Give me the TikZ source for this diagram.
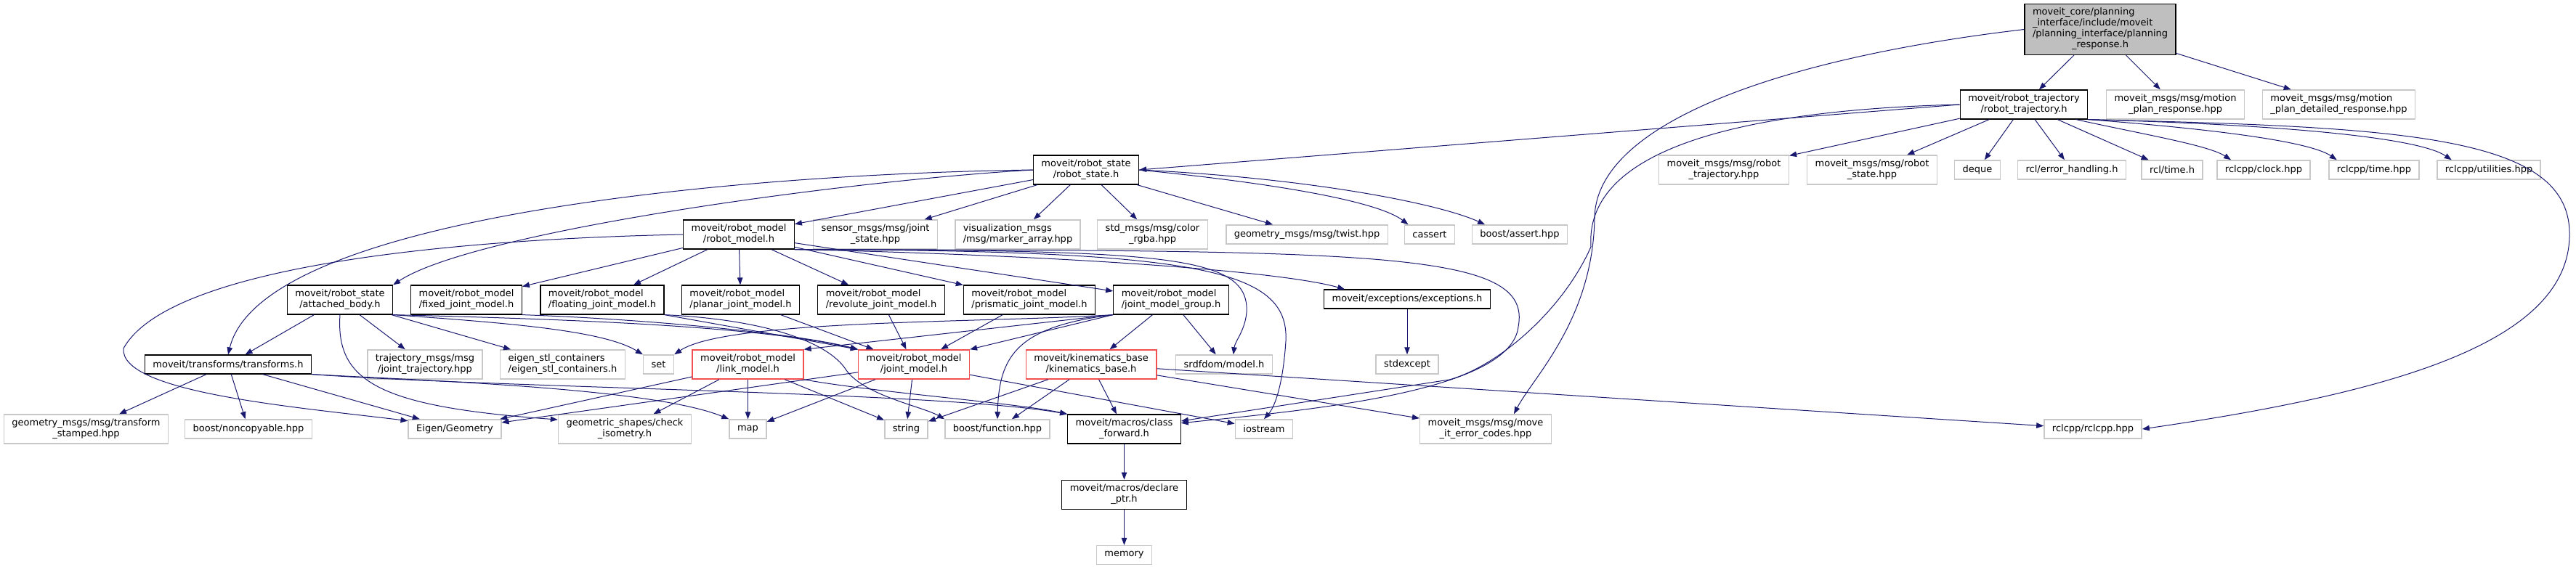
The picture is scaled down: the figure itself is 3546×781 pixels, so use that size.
\documentclass[tikz,border=0pt]{standalone}
\usepackage{fontspec}
\setmainfont{DejaVu Sans}
\usetikzlibrary{arrows.meta, positioning}
\definecolor{edgeblue}{RGB}{25, 25, 112}
\definecolor{extgray}{RGB}{200, 200, 200}
\definecolor{truncred}{RGB}{242, 80, 80}
\definecolor{rootgray}{RGB}{191, 191, 191}
\newcommand{\hdr}[2]{\begin{tabular}{@{}l@{}}#1\\\multicolumn{1}{@{}c@{}}{#2}\end{tabular}}
\tikzset{
    incfile/.style={rectangle, fill=white, line width=1.2pt, inner xsep=11pt, inner ysep=5pt, minimum height=26pt, font=\fontsize{13}{15}\selectfont},
    header/.style={incfile, draw=black},
    extern/.style={incfile, draw=extgray, line width=1.5pt},
    trunc/.style={incfile, draw=truncred, line width=1.5pt},
    rootfile/.style={incfile, draw=black, fill=rootgray},
    dep/.style={-{Triangle[length=10pt, width=7.5pt]}, edgeblue, line width=1pt}
}
\begin{document}
\begin{tikzpicture}[x=1pt, y=-1pt]
            \useasboundingbox (0,0) rectangle (3546,781);
            \node (root) [rootfile] at (2891,40.5) {\begin{tabular}{@{}l@{}}moveit\_core/planning\\\_interface/include/moveit\\/planning\_interface/planning\\\multicolumn{1}{@{}c@{}}{\_response.h}\end{tabular}};

            \node (rtraj) [header] at (2786,144) {\hdr{moveit/robot\_trajectory}{/robot\_trajectory.h}};
            \node (mpr) [extern] at (2994.5,144) {\hdr{moveit\_msgs/msg/motion}{\_plan\_response.hpp}};
            \node (mpdr) [extern] at (3219.5,144) {\hdr{moveit\_msgs/msg/motion}{\_plan\_detailed\_response.hpp}};

            \node (rstate) [header] at (1495,234) {\hdr{moveit/robot\_state}{/robot\_state.h}};
            \node (mmrt) [extern] at (2373,234) {\hdr{moveit\_msgs/msg/robot}{\_trajectory.hpp}};
            \node (mmrs) [extern] at (2577,234) {\hdr{moveit\_msgs/msg/robot}{\_state.hpp}};
            \node (stldeque) [extern] at (2722,234) {deque};
            \node (rclerr) [extern] at (2852,234) {rcl/error\_handling.h};
            \node (rcltime) [extern] at (2990,234) {rcl/time.h};
            \node (clock) [extern] at (3116,234) {rclcpp/clock.hpp};
            \node (rtime) [extern] at (3268,234) {rclcpp/time.hpp};
            \node (util) [extern] at (3426,234) {rclcpp/utilities.hpp};

            \node (rmodel) [header] at (1017,323) {\hdr{moveit/robot\_model}{/robot\_model.h}};
            \node (jstate) [extern] at (1205,323) {\hdr{sensor\_msgs/msg/joint}{\_state.hpp}};
            \node (marker) [extern] at (1401,323) {\hdr{visualization\_msgs}{/msg/marker\_array.hpp}};
            \node (colorrgba) [extern] at (1586.5,323) {\hdr{std\_msgs/msg/color}{\_rgba.hpp}};
            \node (twist) [extern] at (1799,323) {geometry\_msgs/msg/twist.hpp};
            \node (cassert) [extern] at (1968,323) {cassert};
            \node (bassert) [extern] at (2092,323) {boost/assert.hpp};

            \node (attached) [header] at (468,413) {\hdr{moveit/robot\_state}{/attached\_body.h}};
            \node (fixed) [header] at (642,413) {\hdr{moveit/robot\_model}{/fixed\_joint\_model.h}};
            \node (floating) [header] at (829,413) {\hdr{moveit/robot\_model}{/floating\_joint\_model.h}};
            \node (planar) [header] at (1019.5,413) {\hdr{moveit/robot\_model}{/planar\_joint\_model.h}};
            \node (revolute) [header] at (1213,413) {\hdr{moveit/robot\_model}{/revolute\_joint\_model.h}};
            \node (prismatic) [header] at (1417,413) {\hdr{moveit/robot\_model}{/prismatic\_joint\_model.h}};
            \node (jmg) [header] at (1612,413) {\hdr{moveit/robot\_model}{/joint\_model\_group.h}};
            \node (exc) [header] at (1937,412) {moveit/exceptions/exceptions.h};

            \node (transforms) [header] at (314,502) {moveit/transforms/transforms.h};
            \node (trajmsg) [extern] at (585,502) {\hdr{trajectory\_msgs/msg}{/joint\_trajectory.hpp}};
            \node (eigenstl) [extern] at (774.5,502) {\hdr{eigen\_stl\_containers}{/eigen\_stl\_containers.h}};
            \node (stlset) [extern] at (906.5,502) {set};
            \node (link) [trunc] at (1029.5,502) {\hdr{moveit/robot\_model}{/link\_model.h}};
            \node (joint) [trunc] at (1258,502) {\hdr{moveit/robot\_model}{/joint\_model.h}};
            \node (kin) [trunc] at (1502,502) {\hdr{moveit/kinematics\_base}{/kinematics\_base.h}};
            \node (srdf) [extern] at (1685,502) {srdfdom/model.h};
            \node (stdexc) [extern] at (1937,502) {stdexcept};

            \node (tfstamped) [extern] at (118.5,591) {\hdr{geometry\_msgs/msg/transform}{\_stamped.hpp}};
            \node (noncopy) [extern] at (342,591) {boost/noncopyable.hpp};
            \node (eigen) [extern] at (626,591) {Eigen/Geometry};
            \node (iso) [extern] at (860,591) {\hdr{geometric\_shapes/check}{\_isometry.h}};
            \node (stlmap) [extern] at (1029.5,591) {map};
            \node (stlstring) [extern] at (1247.5,591) {string};
            \node (bfunc) [extern] at (1373,591) {boost/function.hpp};
            \node (classfwd) [header] at (1547.5,591) {\hdr{moveit/macros/class}{\_forward.h}};
            \node (stliostream) [extern] at (1740,591) {iostream};
            \node (errcodes) [extern] at (2045,591) {\hdr{moveit\_msgs/msg/move}{\_it\_error\_codes.hpp}};
            \node (rclcpp) [extern] at (2881,591) {rclcpp/rclcpp.hpp};

            \node (declptr) [header, below=49pt of classfwd] {\hdr{moveit/macros/declare}{\_ptr.h}};
            \node (stlmemory) [extern, below=49pt of declptr] {memory};

            \draw [dep] (root) -- (rtraj);
            \draw [dep] (root) -- (mpr);
            \draw [dep] (root) -- (mpdr);
            \draw [dep] (root.west) .. controls (2450,80) and (2197,170) .. (2195,300) .. controls (2193,440) and (2110,520) .. (errcodes.28);

            \draw [dep] (rtraj.west) -- (rstate.east);
            \draw [dep] (rtraj) -- (mmrt);
            \draw [dep] (rtraj) -- (mmrs);
            \draw [dep] (rtraj) -- (stldeque);
            \draw [dep] (rtraj) -- (rclerr);
            \draw [dep] (rtraj) -- (rcltime.157);
            \draw [dep] (rtraj.-16) .. controls (2950,185) and (3040,200) .. (clock.163);
            \draw [dep] (rtraj.south east) .. controls (3050,178) and (3180,195) .. (rtime.165);
            \draw [dep] (rtraj.south east) .. controls (3150,172) and (3330,190) .. (util.165);
            \draw [dep] (rtraj.south east) .. controls (3300,175) and (3535,185) .. (3537,320) .. controls (3540,470) and (3300,540) .. (rclcpp.east);
            \draw [dep] (rtraj.west) .. controls (2450,150) and (2180,190) .. (2190,340) .. controls (2150,430) and (2060,505) .. (1995,523) -- (classfwd.8);

            \draw [dep] (rstate) -- (rmodel);
            \draw [dep] (rstate) -- (jstate);
            \draw [dep] (rstate) -- (marker);
            \draw [dep] (rstate) -- (colorrgba);
            \draw [dep] (rstate) -- (twist);
            \draw [dep] (rstate.east) .. controls (1780,255) and (1900,280) .. (cassert.155);
            \draw [dep] (rstate.east) .. controls (1800,245) and (1980,280) .. (bassert.164);
            \draw [dep] (rstate.west) .. controls (1150,250) and (650,320) .. (attached.north east);
            \draw [dep] (rstate.west) .. controls (1000,240) and (360,300) .. (transforms.north);

            \draw [dep] (rmodel) -- (fixed);
            \draw [dep] (rmodel) -- (floating);
            \draw [dep] (rmodel) -- (planar);
            \draw [dep] (rmodel) -- (revolute);
            \draw [dep] (rmodel) -- (prismatic);
            \draw [dep] (rmodel) -- (jmg);
            \draw [dep] (rmodel.south east) .. controls (1400,350) and (1750,370) .. (exc.171);
            \draw [dep] (rmodel.south east) .. controls (1600,345) and (1720,350) .. (1716,430) .. controls (1714,455) and (1700,470) .. (srdf.47);
            \draw [dep] (rmodel.south east) .. controls (1650,345) and (1775,370) .. (1770,470) .. controls (1766,530) and (1755,560) .. (stliostream.north);
            \draw [dep] (rmodel.south east) .. controls (1900,345) and (2110,345) .. (2090,450) .. controls (2080,540) and (1800,565) .. (classfwd.6);
            \draw [dep] (rmodel.west) .. controls (600,330) and (230,370) .. (170,480) .. controls (165,540) and (400,560) .. (eigen.170);

            \draw [dep] (attached) -- (transforms);
            \draw [dep] (attached) -- (trajmsg);
            \draw [dep] (attached) -- (eigenstl);
            \draw [dep] (attached.south east) .. controls (700,445) and (830,455) .. (stlset.north west);
            \draw [dep] (attached.south east) .. controls (800,440) and (1050,450) .. (joint.north west);
            \draw [dep] (attached.south) .. controls (462,525) and (520,560) .. (iso.172);

            \draw [dep] (fixed.south east) .. controls (900,440) and (1100,460) .. (joint.north west);
            \draw [dep] (floating.south east) -- (joint.north west);
            \draw [dep] (floating.south east) .. controls (1050,440) and (1140,470) .. (1165,510) .. controls (1190,545) and (1270,560) .. (bfunc.north west);
            \draw [dep] (planar) -- (joint);
            \draw [dep] (revolute) -- (joint);
            \draw [dep] (prismatic) -- (joint);

            \draw [dep] (jmg.south west) -- (link.north east);
            \draw [dep] (jmg.south west) -- (joint.north east);
            \draw [dep] (jmg) -- (kin);
            \draw [dep] (jmg) -- (srdf);
            \draw [dep] (jmg.south west) .. controls (1350,445) and (1000,440) .. (stlset.north east);
            \draw [dep] (jmg.south west) .. controls (1400,450) and (1375,490) .. (bfunc.north);
            \draw [dep] (exc) -- (stdexc);

            \draw [dep] (transforms) -- (tfstamped);
            \draw [dep] (transforms) -- (noncopy);
            \draw [dep] (transforms) -- (eigen);
            \draw [dep] (transforms.south east) .. controls (600,525) and (900,535) .. (stlmap.north west);
            \draw [dep] (transforms.south east) .. controls (700,535) and (1300,540) .. (classfwd.north west);

            \draw [dep] (link) -- (eigen);
            \draw [dep] (link) -- (iso);
            \draw [dep] (link) -- (stlmap);
            \draw [dep] (link) -- (stlstring);
            \draw [dep] (link.south east) .. controls (1200,540) and (1400,555) .. (classfwd.north west);

            \draw [dep] (joint) -- (eigen);
            \draw [dep] (joint) -- (stlmap);
            \draw [dep] (joint) -- (stlstring);
            \draw [dep] (joint) -- (stliostream);

            \draw [dep] (kin) -- (stlstring);
            \draw [dep] (kin) -- (bfunc);
            \draw [dep] (kin) -- (classfwd);
            \draw [dep] (kin) -- (errcodes);
            \draw [dep] (kin) -- (rclcpp);

            \draw [dep] (classfwd) -- (declptr);
            \draw [dep] (declptr) -- (stlmemory);
        \end{tikzpicture}
\end{document}
